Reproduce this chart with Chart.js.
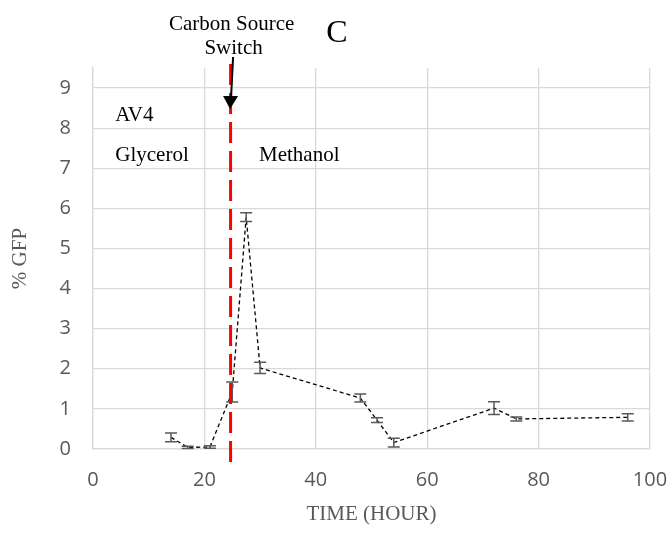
<!DOCTYPE html>
<html>
<head>
<meta charset="utf-8">
<script src="https://cdn.jsdelivr.net/npm/chart.js@4/dist/chart.umd.min.js"></script>
<style>
	html, body { margin: 0; padding: 0; background: #fff; }
	#wrap { width: 672px; height: 534px; position: relative; }
</style>
</head>
<body>
<div id="wrap"><canvas id="chart1"></canvas></div>
<script>
"use strict";

// AV4 - % GFP over time (hours)
var times = [14, 17, 21, 25, 27.5, 30, 48, 51, 54, 72, 76, 96];
var gfp = [0.29, 0.04, 0.05, 1.42, 5.78, 2.02, 1.27, 0.72, 0.16, 1.02, 0.75, 0.79];
var gfpErr = [0.11, 0.03, 0.03, 0.25, 0.11, 0.14, 0.1, 0.06, 0.11, 0.16, 0.05, 0.09];
var xTicks = [0, 20, 40, 60, 80, 100];
var yTicks = [0, 1, 2, 3, 4, 5, 6, 7, 8, 9];
var switchTime = 24.7;

var points = times.map(function (t, i) { return { x: t, y: gfp[i] }; });

var gridColor = "#d9d9d9";
var labelColor = "#595959";
var serif = "'Liberation Serif', 'Times New Roman', serif";

// error bars
var errorBars = {
	id: "errorBars",
	afterDatasetsDraw: function (chart) {
		var ctx = chart.ctx, xs = chart.scales.x, ys = chart.scales.y;
		ctx.save();
		ctx.strokeStyle = "#595959";
		ctx.lineWidth = 1.5;
		times.forEach(function (t, i) {
			var px = xs.getPixelForValue(t);
			var top = ys.getPixelForValue(gfp[i] + gfpErr[i]);
			var bot = ys.getPixelForValue(gfp[i] - gfpErr[i]);
			ctx.beginPath();
			ctx.moveTo(px, top); ctx.lineTo(px, bot);
			ctx.moveTo(px - 6, top); ctx.lineTo(px + 6, top);
			ctx.moveTo(px - 6, bot); ctx.lineTo(px + 6, bot);
			ctx.stroke();
		});
		ctx.restore();
	}
};

// switch line, arrow and text labels
var annotations = {
	id: "annotations",
	afterDraw: function (chart) {
		var ctx = chart.ctx, xs = chart.scales.x, ys = chart.scales.y;
		var sx = xs.getPixelForValue(switchTime);
		ctx.save();
		ctx.strokeStyle = "#ff0000";
		ctx.lineWidth = 3;
		ctx.setLineDash([21, 8]);
		ctx.beginPath();
		ctx.moveTo(sx, ys.getPixelForValue(9.6));
		ctx.lineTo(sx, ys.getPixelForValue(-0.35));
		ctx.stroke();

		// arrow
		ctx.setLineDash([]);
		ctx.strokeStyle = "#000";
		ctx.fillStyle = "#000";
		ctx.lineWidth = 2;
		var tipY = ys.getPixelForValue(8.48);
		ctx.beginPath();
		ctx.moveTo(sx + 2.5, 57);
		ctx.lineTo(sx + 0.5, tipY - 12);
		ctx.stroke();
		ctx.beginPath();
		ctx.moveTo(sx - 7.5, tipY - 13);
		ctx.lineTo(sx + 7.5, tipY - 13);
		ctx.lineTo(sx - 0.5, tipY);
		ctx.closePath();
		ctx.fill();

		ctx.font = "21px " + serif;
		ctx.textBaseline = "alphabetic";
		ctx.textAlign = "center";
		ctx.fillText("Carbon Source", sx + 1, 30);
		ctx.fillText("Switch", sx + 3, 54);
		ctx.textAlign = "left";
		ctx.fillText("AV4", xs.getPixelForValue(4), 121);
		ctx.fillText("Glycerol", xs.getPixelForValue(4), 161);
		ctx.fillText("Methanol", xs.getPixelForValue(29.8), 161);
		ctx.textAlign = "center";
		ctx.font = "32px " + serif;
		ctx.fillText("C", 337, 42);
		ctx.restore();
	}
};

new Chart(document.getElementById("chart1"), {
	type: "scatter",
	data: {
		datasets: [{
			label: "% GFP",
			data: points,
			showLine: true,
			borderColor: "#000",
			borderWidth: 1.3,
			borderDash: [4, 3],
			pointRadius: 0,
			pointHoverRadius: 0,
			tension: 0
		}]
	},
	options: {
		responsive: true,
		maintainAspectRatio: false,
		animation: false,
		layout: { padding: { top: 68, right: 22, bottom: 0, left: 0 } },
		plugins: { legend: { display: false }, tooltip: { enabled: false } },
		scales: {
			x: {
				type: "linear",
				min: 0,
				max: 100,
				afterBuildTicks: function (s) { s.ticks = xTicks.map(function (v) { return { value: v }; }); },
				afterFit: function (s) { s.height = 85; s.paddingRight = 0; s.paddingLeft = 0; },
				grid: { color: gridColor, lineWidth: 1.3, drawTicks: false },
				border: { color: gridColor, width: 1.3 },
				ticks: {
					padding: 19,
					maxRotation: 0,
					autoSkip: false,
					color: labelColor,
					font: { family: "'Open Sans'", size: 20, lineHeight: 1.2 }
				},
				title: {
					display: true,
					text: "TIME (HOUR)",
					color: labelColor,
					padding: { top: 0, bottom: 7 },
					font: { family: serif, size: 21, lineHeight: 1.2 }
				}
			},
			y: {
				min: 0,
				max: 9.5,
				afterBuildTicks: function (s) { s.ticks = yTicks.map(function (v) { return { value: v }; }); },
				afterFit: function (s) { s.width = 93; s.paddingTop = 0; s.paddingBottom = 0; },
				grid: { color: gridColor, lineWidth: 1.3, drawTicks: false },
				border: { color: gridColor, width: 1.3 },
				ticks: {
					padding: 22,
					color: labelColor,
					font: { family: "'Open Sans'", size: 20, lineHeight: 1.2 }
				},
				title: {
					display: true,
					text: "% GFP",
					color: labelColor,
					padding: { top: 8, bottom: 0 },
					font: { family: serif, size: 21, lineHeight: 1.2 }
				}
			}
		}
	},
	plugins: [errorBars, annotations]
});
</script>
</body>
</html>
